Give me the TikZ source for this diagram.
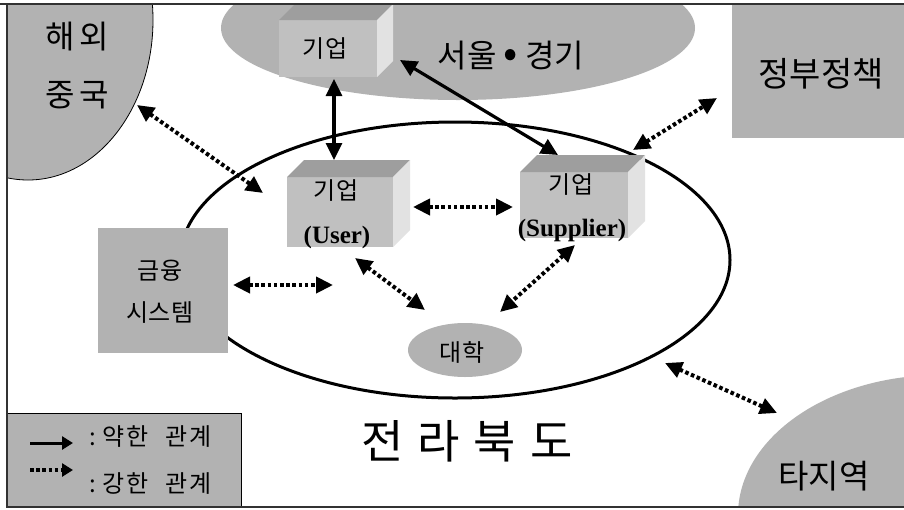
\documentclass[tikz,border=0pt]{standalone}
\usepackage{fontspec}
\setmainfont{Liberation Serif}
\newfontfamily\kr{Noto Sans CJK KR}
\usetikzlibrary{shapes.geometric,arrows.meta}
\definecolor{blobgray}{RGB}{178,178,178}
\definecolor{facefront}{RGB}{192,192,192}
\definecolor{facetop}{RGB}{158,158,158}
\definecolor{faceside}{RGB}{226,226,226}
\definecolor{framec}{RGB}{50,50,50}

\begin{document}
\begin{tikzpicture}[x=1pt,y=-1pt,
  blob/.style={fill=blobgray,draw=none,inner sep=0pt,outer sep=0pt},
  oval/.style={blob,ellipse},
  firm/.style={rectangle,fill=facefront,inner sep=0pt,outer sep=0pt},
  krl/.style={font=\kr\fontsize{#1}{#1}\selectfont,inner sep=0pt},
  lat/.style={font=\bfseries\fontsize{25}{25}\selectfont,inner sep=0pt},
  >={Triangle[length=17pt,width=16pt]},
  weak/.style={line width=3.2pt,<->},
  strong/.style={line width=4pt,dash pattern=on 3.6pt off 2.6pt,<->},
]
\useasboundingbox (0,0) rectangle (904,509);
\fill[white] (0,0) rectangle (904,509);

\begin{scope}
\clip (7,4) rectangle (904,507);

% outer regions
\node[oval,draw=black,line width=0.8pt,minimum width=250pt,minimum height=320pt] (abroad) at (28,20) {};
\node[oval,minimum width=474pt,minimum height=144pt] (capital) at (458,28) {};
\node[blob,rectangle,minimum width=172pt,minimum height=134pt] (policy) at (818,71) {};
\node[oval,minimum width=404pt,minimum height=280pt] (other) at (940,515) {};

\node[krl=32] (tabroad1) at (77,37) {해\hspace{4pt}외};
\node[krl=32] (tabroad2) at (77,95) {중\hspace{4pt}국};
\node[krl=32] (tcapital) at (511,56) {서울\hspace{7pt}{\fontsize{42}{42}\selectfont •}\hspace{7pt}경기};
\node[krl=34] (tpolicy) at (821,74) {정부정책};
\node[krl=33] (tother) at (824,476) {타지역};

% province boundary
\node[ellipse,draw=black,line width=3pt,minimum width=550pt,minimum height=276pt,inner sep=0pt] (province) at (455,260) {};
\node[krl=46] (tprovince) at (467,441) {전\hspace{14pt}라\hspace{14pt}북\hspace{14pt}도};

% finance system
\node[blob,rectangle,minimum width=130pt,minimum height=125pt] (finance) at (163,290.5) {};
\node[krl=24] (tfin1) at (160,271) {금융};
\node[krl=24] (tfin2) at (160,313) {시스템};

% university
\node[oval,minimum width=114pt,minimum height=54pt] (univ) at (465,350) {};
\node[krl=24] (tuniv) at (462,352) {대학};

% firms drawn as boxes: front face node plus top and side faces
\node[firm,minimum width=98pt,minimum height=57pt] (firmtop) at (328,48.5) {};
\node[firm,minimum width=106pt,minimum height=70pt] (user) at (340,212) {};
\node[firm,minimum width=108pt,minimum height=66pt] (supplier) at (574,205) {};
\foreach \b/\d in {firmtop/16,user/17,supplier/17}{
  \fill[facetop] (\b.north west) -- ++(\d,-\d) -- ([xshift=\d pt,yshift=\d pt]\b.north east) -- (\b.north east) -- cycle;
  \fill[faceside] (\b.north east) -- ++(\d,-\d) -- ([xshift=\d pt,yshift=\d pt]\b.south east) -- (\b.south east) -- cycle;
}
\node[krl=24] (tfirmtop) at (325,49) {기업};
\node[krl=24] (tuser1) at (336,191) {기업};
\node[lat] (tuser2) at (337,237) {(User)};
\node[krl=24] (tsup1) at (571,185) {기업};
\node[lat] (tsup2) at (572,230) {(Supplier)};

% connector end points
\coordinate (a1s) at (334,79);   \coordinate (a1e) at (334,160);
\coordinate (a2s) at (400,60);   \coordinate (a2e) at (558,155);
\coordinate (d1s) at (137,105);  \coordinate (d1e) at (263,193);
\coordinate (d2s) at (413,207);  \coordinate (d2e) at (513,207);
\coordinate (d3s) at (633,150);  \coordinate (d3e) at (717,98);
\coordinate (d4s) at (233,285);  \coordinate (d4e) at (333,285);
\coordinate (d5s) at (355,258);  \coordinate (d5e) at (425,310);
\coordinate (d6s) at (575,245);  \coordinate (d6e) at (500,312);
\coordinate (d7s) at (665,363);  \coordinate (d7e) at (777,413);

\draw[weak] (a1s) -- (a1e);
\draw[weak] (a2s) -- (a2e);
\foreach \p in {d1,d2,d3,d4,d5,d6,d7}
  \draw[strong] (\p s) -- (\p e);

% legend
\node[rectangle,fill=blobgray,draw=black,line width=0.8pt,minimum width=240pt,minimum height=94pt,anchor=north west,inner sep=0pt] (legend) at (1,413) {};
\coordinate (lw1) at (30,443); \coordinate (lw2) at (73,443);
\coordinate (ls1) at (30,470); \coordinate (ls2) at (73,470);
\draw[line width=3pt,-{Triangle[length=11pt,width=13pt]}] (lw1) -- (lw2);
\draw[line width=4pt,dash pattern=on 3.6pt off 2.6pt,-{Triangle[length=11pt,width=13pt]}] (ls1) -- (ls2);
\node[krl=24,anchor=west] (tweak) at (89,437) {:\hspace{7pt}약\hspace{2pt}한\hspace{16pt}관\hspace{2pt}계};
\node[krl=24,anchor=west] (tstrong) at (89,484) {:\hspace{7pt}강\hspace{2pt}한\hspace{16pt}관\hspace{2pt}계};
\end{scope}

% frame
\draw[framec,line width=1.5pt] (0,4) -- (904,4);
\draw[framec,line width=1.5pt] (7,4) -- (7,507) -- (904,507);
\end{tikzpicture}
\end{document}
